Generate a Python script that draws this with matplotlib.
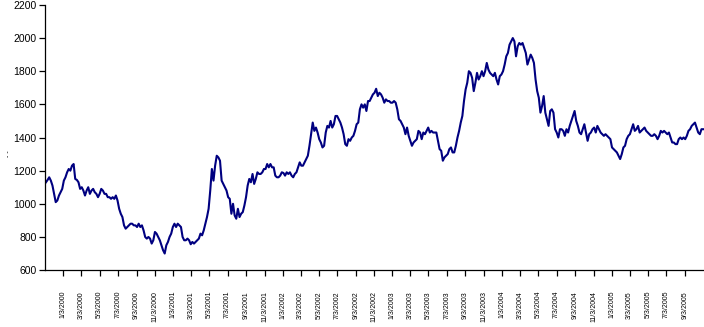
import pandas
import matplotlib.pyplot as plt

# values, left to right, evenly spaced in time
seg1 = [1130, 1144, 1160, 1140, 1110, 1060, 1010, 1020, 1050, 1070, 1090, 1140, 1160, 1190,
        1210, 1200, 1230, 1240, 1150, 1144, 1130, 1090, 1100, 1080, 1050, 1080, 1100, 1060,
        1080, 1090, 1070, 1060, 1040, 1060, 1090, 1080, 1060, 1060, 1040, 1040, 1030, 1040,
        1030, 1050, 1020, 970, 940, 920, 870, 850, 860, 870, 880, 880, 870, 870, 860, 880,
        860, 870, 840, 800, 790, 800, 790, 760, 780, 830, 820, 800, 780, 750, 720, 700,
        750, 770, 800, 820, 860, 880, 860, 880, 870, 860, 800, 780, 780, 790, 780, 756,
        770, 760, 770, 780, 790, 820, 810, 840, 880, 920, 970, 1080, 1210, 1140, 1230, 1290,
        1280, 1260, 1140, 1120, 1100, 1080, 1040, 1030, 940, 1000, 930, 910, 970, 920, 940,
        950, 990, 1040, 1110, 1150, 1130, 1180, 1120, 1150, 1190, 1180]
seg2 = [1180, 1190, 1210, 1210, 1240, 1220, 1240, 1220, 1220, 1170, 1160, 1160, 1170, 1190,
        1186, 1170, 1190, 1180, 1190, 1170, 1160, 1180, 1190, 1220, 1250, 1230, 1230, 1250,
        1270, 1290, 1350, 1420, 1490, 1440, 1460, 1430, 1390, 1370, 1340, 1350, 1430, 1470,
        1460, 1500, 1460, 1480, 1530, 1530, 1510, 1490, 1460, 1420, 1360, 1350, 1390, 1380,
        1400, 1410, 1440, 1480, 1490, 1570, 1600, 1580, 1600, 1560, 1620, 1620, 1640, 1660,
        1670, 1694, 1650, 1670, 1660, 1640, 1610, 1630, 1620, 1620, 1610, 1610, 1620, 1610,
        1570, 1510, 1500, 1480, 1460, 1420, 1460, 1410, 1380, 1350, 1370, 1380, 1390, 1440,
        1430, 1390, 1430, 1420, 1440, 1460, 1430, 1440, 1430, 1430, 1430, 1380, 1330, 1320,
        1260, 1280, 1290, 1300, 1330, 1340, 1310, 1310, 1350, 1400, 1440, 1490, 1530, 1620,
        1690, 1730, 1800, 1790, 1760, 1680, 1730, 1790, 1750, 1770, 1800]
seg3 = [1770, 1800, 1850, 1810, 1790, 1780, 1770, 1790, 1750, 1720, 1770, 1780, 1800, 1840,
        1890, 1910, 1960, 1980, 2000, 1980, 1890, 1950, 1970, 1960, 1970, 1940, 1910, 1840,
        1870, 1900, 1880, 1850, 1750, 1680, 1640, 1550, 1590, 1650, 1550, 1510, 1470, 1560,
        1570, 1550, 1450, 1430, 1400, 1450, 1450, 1440, 1410, 1450, 1430, 1470, 1500, 1530,
        1560, 1500, 1470, 1430, 1420, 1450, 1480, 1430, 1380, 1420, 1430, 1450, 1460, 1430,
        1470, 1450, 1430, 1420, 1410, 1420, 1410, 1400, 1390, 1340, 1330, 1320, 1310, 1290,
        1270, 1300, 1340, 1350, 1390, 1410, 1420, 1450, 1480, 1440, 1450, 1470, 1430, 1440,
        1450, 1460, 1440, 1430, 1420, 1410, 1410, 1420, 1410, 1390, 1410, 1440, 1430, 1440,
        1430, 1420, 1430, 1400, 1370, 1370, 1360, 1360, 1390, 1400, 1390, 1400, 1390, 1410,
        1440, 1450, 1470, 1480, 1490, 1460, 1430, 1420, 1450, 1450]

values = seg1 + seg2 + seg3
dates = pandas.date_range("1999-11-06", "2005-11-03", periods=len(values))

tick_dates = pandas.date_range("2000-01-03", "2005-09-03", freq=pandas.DateOffset(months=2))
tick_labels = [f"{d.month}/3/{d.year}" for d in tick_dates]

plt.rcParams['font.family'] = ['Liberation Sans', 'DejaVu Sans']

fig = plt.figure(figsize=(7.04, 3.27), dpi=100)
ax = fig.add_axes([0.064, 0.174, 0.936, 0.811])
ax.plot(dates, values, color='#000080', linewidth=1.5)

ax.set_ylim(600, 2200)
ax.set_yticks(range(600, 2201, 200))
ax.set_xlim(pandas.Timestamp("1999-11-03"), pandas.Timestamp("2005-11-06"))
ax.set_xticks(tick_dates)
ax.set_xticklabels(tick_labels, rotation=90, fontsize=5, va='top',
                   family=['Liberation Sans Narrow', 'Liberation Sans', 'DejaVu Sans'])

ax.spines['top'].set_visible(False)
ax.spines['right'].set_visible(False)
ax.spines['left'].set_linewidth(0.9)
ax.spines['bottom'].set_linewidth(0.9)
ax.tick_params(axis='y', labelsize=7.5, length=4, width=0.9, pad=2)
ax.tick_params(axis='x', length=4, width=0.9, pad=11)
ax.set_ylabel('- -', fontsize=5)
ax.yaxis.set_label_coords(-0.05, 0.44)

fig.savefig("out.png", dpi=100)
